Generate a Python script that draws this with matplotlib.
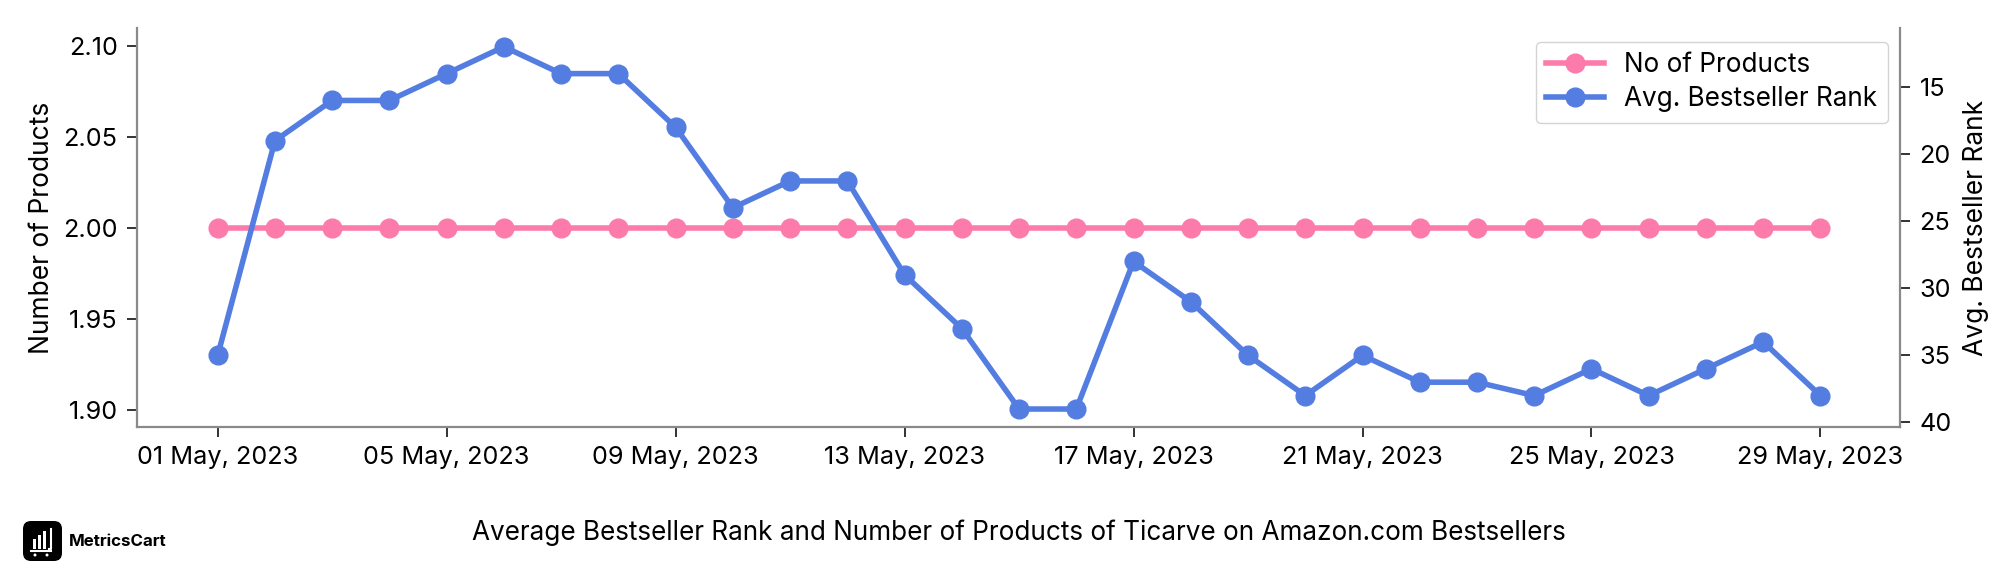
import pandas as pd
import matplotlib
matplotlib.use('Agg')
import matplotlib.pyplot as plt
import matplotlib.dates as mdates
from matplotlib.patches import FancyBboxPatch, Rectangle, Circle

plt.rcParams['font.family'] = ['Inter', 'DejaVu Sans']

dates = pd.date_range('2023-05-01', '2023-05-29', freq='D')
products = [2] * 29
avg_rank = [35, 19, 16, 16, 14, 12, 14, 14, 18, 24, 22, 22, 29, 33, 39,
            39, 28, 31, 35, 38, 35, 37, 37, 38, 36, 38, 36, 34, 38]
left_ticks = [1.90, 1.95, 2.00, 2.05, 2.10]
right_ticks = [15, 20, 25, 30, 35, 40]

PINK = '#fc7bab'
BLUE = '#547de2'
GREY = '#8a8a8a'
W, H = 2016, 576

fig = plt.figure(figsize=(20.16, 5.76), dpi=100)
ax = fig.add_axes([137 / W, 1 - 427 / H, (1900 - 137) / W, (427 - 28) / H])
ax2 = ax.twinx()

line1, = ax.plot(dates, products, color=PINK, lw=4, marker='o', ms=13.5, label='No of Products')
line2, = ax2.plot(dates, avg_rank, color=BLUE, lw=4, marker='o', ms=13.5, label='Avg. Bestseller Rank')

ax.set_xlim(dates[0] - pd.Timedelta(days=1.41), dates[-1] + pd.Timedelta(days=1.39))
ax.set_ylim(1.8907, 2.1100)
ax2.set_ylim(40.34, 10.6)

ax.set_xticks(dates[::4])
ax.xaxis.set_major_formatter(mdates.DateFormatter('%d %b, %Y'))
ax.set_yticks(left_ticks)
ax.set_yticklabels([f'{v:.2f}' for v in left_ticks])
ax2.set_yticks(right_ticks)

for a in (ax, ax2):
    a.spines['top'].set_visible(False)
    for s in a.spines.values():
        s.set_color(GREY)
        s.set_linewidth(1.6)
    a.tick_params(axis='both', labelsize=18.2, length=7, width=1.4, color='#333333', pad=7)
ax.spines['right'].set_visible(False)
ax2.spines['left'].set_visible(False)
ax2.spines['bottom'].set_visible(False)

ax.set_ylabel('Number of Products', fontsize=19, labelpad=5.5)
ax2.set_ylabel('Avg. Bestseller Rank', fontsize=19, labelpad=8)

ax2.legend(handles=[line1, line2], loc='upper right', bbox_to_anchor=(1888 / W, 1 - 42 / H),
           bbox_transform=fig.transFigure, borderaxespad=0, labelspacing=0.3, handlelength=2.2,
           fontsize=18.8, frameon=True, framealpha=1, edgecolor='#d4d4d4')

fig.text(1019 / W, 1 - 533 / H, 'Average Bestseller Rank and Number of Products of Ticarve on Amazon.com Bestsellers',
         ha='center', va='center', fontsize=18.8)
fig.text(69 / W, 1 - 541 / H, 'MetricsCart', ha='left', va='center', fontsize=12.2, fontweight='bold')

# logo
logo = fig.add_axes([0, 0, 1, 1], zorder=-1)
logo.set_xlim(0, W)
logo.set_ylim(H, 0)
logo.axis('off')
logo.add_patch(FancyBboxPatch((23, 521), 39, 40, boxstyle='round,pad=0,rounding_size=8', fc='black', ec='none'))
for x, top in zip([33, 38, 43], [539, 535, 531]):
    logo.add_patch(Rectangle((x, top), 2.5, 549 - top, fc='white'))
logo.plot([49, 51, 51], [549, 549, 529], color='white', lw=1.5)
logo.plot([31, 51], [551, 551], color='white', lw=1.5)
logo.add_patch(Circle((35, 555), 1.5, fc='white'))
logo.add_patch(Circle((47, 555), 1.5, fc='white'))

fig.savefig('out.png', dpi=100)
